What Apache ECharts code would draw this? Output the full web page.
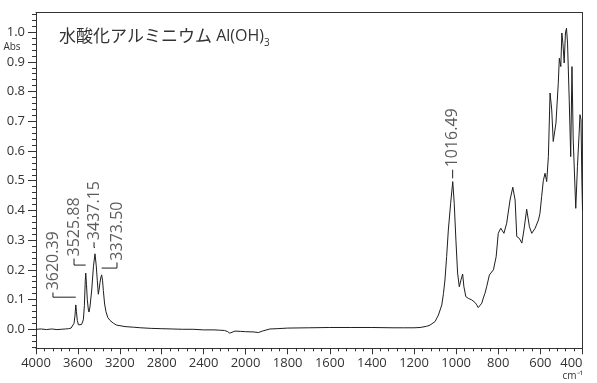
<!DOCTYPE html>
<html><head><meta charset="utf-8">
<script src="https://cdn.jsdelivr.net/npm/echarts@6/dist/echarts.min.js"></script>
<style>html,body{margin:0;padding:0;background:#fff}#c{width:597px;height:383px}</style>
</head><body><div id="c"></div>
<script>
// ---- data: 4000–2000 cm-1 section ----
const wnHigh = [4000,3950,3900,3850,3800,3760,3720,3690,3665,3650,3637,3628,3620,3614,3606,3595,3580,3565,3548,3538,3530,3525,3518,3510,3500,3494,3485,3468,3452,3437,3425,3415,3405,3397,3389,3380,3373,3365,3357,3345,3332,3315,3294,3260,3230,3150,3071,3000,2900,2800,2700,2600,2500,2400,2300,2250,2200,2170,2150,2135,2100,2050,2000];
const absHigh = [0.000,0.001,-0.001,0.001,-0.001,0.000,0.001,0.002,0.004,0.008,0.020,0.045,0.082,0.060,0.030,0.015,0.011,0.016,0.032,0.080,0.160,0.189,0.150,0.099,0.065,0.058,0.075,0.132,0.210,0.254,0.215,0.165,0.118,0.135,0.158,0.176,0.183,0.165,0.130,0.085,0.059,0.040,0.030,0.020,0.014,0.009,0.007,0.005,0.003,0.002,0.001,0.000,0.000,-0.002,-0.002,-0.003,-0.004,-0.008,-0.013,-0.007,-0.006,-0.007,-0.008];
// ---- data: 2000–400 cm-1 section ----
const wnLow = [2000,1960,1939,1920,1884,1850,1800,1700,1600,1500,1400,1300,1250,1200,1171,1140,1124,1100,1084,1068,1060,1053,1045,1037,1026,1016,1009,1001,993,985,977,969,963,954,942,926,910,902,895,886,878,871,863,855,842,823,810,800,788,773,760,744,731,720,712,700,688,678,665,652,641,625,609,602,594,586,578,570,562,554,546,539,526,515,510,503,498,493,487,481,476,471,463,456,450,444,432,424,416,412,407,403,400];
const absLow = [-0.008,-0.009,-0.011,-0.006,0.001,0.002,0.004,0.005,0.006,0.006,0.006,0.005,0.005,0.005,0.006,0.010,0.014,0.026,0.048,0.082,0.121,0.166,0.245,0.334,0.424,0.497,0.424,0.300,0.189,0.143,0.166,0.186,0.143,0.110,0.104,0.099,0.090,0.082,0.073,0.076,0.088,0.105,0.121,0.143,0.183,0.200,0.244,0.323,0.340,0.323,0.357,0.435,0.478,0.435,0.312,0.306,0.290,0.334,0.404,0.345,0.323,0.340,0.368,0.390,0.446,0.500,0.525,0.497,0.581,0.795,0.738,0.632,0.694,0.828,0.912,0.884,0.997,0.963,0.896,0.997,1.013,0.963,0.772,0.581,0.884,0.637,0.407,0.547,0.660,0.722,0.705,0.500,0.400];
// ---- peak annotations ----
const peakWn = [3620.39, 3525.88, 3437.15, 3373.50, 1016.49];
const peakText = ['3620.39', '3525.88', '3437.15', '3373.50', '1016.49'];
const titleCJK = '水酸化アルミニウム';
const titleLatin = ' Al(OH)';
const titleSub = '3';
const yUnit = 'Abs';
const xUnit = 'cm⁻¹';

// leader geometry: label column (wavenumber), label start, leader top, bend level (Abs)
const annot = [
  {tx: 3838, ta: 0.131, lt: 0.124, bend: 0.108},
  {tx: 3637, ta: 0.245, lt: 0.238, bend: 0.216},
  {tx: 3446, ta: 0.300, lt: 0.293, bend: 0.275},
  {tx: 3227, ta: 0.231, lt: 0.225, bend: 0.206},
  {tx: 1016.49, ta: 0.545, lt: 0.537, bend: 0.508}
];

const L = 36, R = 582.5, T = 12.5, B = 348.3, XS = 245.5;
const YMIN = -0.064, YMAX = 1.066;
const H = B - T;
const py = v => T + (YMAX - v) / (YMAX - YMIN) * H;
const AX = '#333', TXT = '#333', LINE = '#1e1e1e';
const NUMFONT = 'Open Sans';

const zip = (a, b) => a.map((v, i) => [v, b[i]]);

const series = [
  {type: 'line', xAxisIndex: 0, yAxisIndex: 0, data: zip(wnHigh, absHigh), symbol: 'none', lineStyle: {width: 1, color: LINE}, animation: false},
  {type: 'line', xAxisIndex: 1, yAxisIndex: 1, data: zip(wnLow, absLow), symbol: 'none', lineStyle: {width: 1, color: LINE}, animation: false}
];
peakWn.forEach((w, i) => {
  const a = annot[i];
  const gi = w >= 2000 ? 0 : 1;
  series.push({
    type: 'line', xAxisIndex: gi, yAxisIndex: gi, symbol: 'none', animation: false, silent: true,
    lineStyle: {width: 1, color: LINE},
    data: [[a.tx, a.lt], [a.tx, a.bend], [w, a.bend]]
  });
  series.push({
    type: 'scatter', xAxisIndex: gi, yAxisIndex: gi, symbolSize: 0, animation: false, silent: true,
    data: [[a.tx, a.ta]],
    label: {show: true, formatter: peakText[i], rotate: 90, position: 'inside', align: 'left', verticalAlign: 'middle',
      fontSize: 16, color: TXT, fontFamily: NUMFONT}
  });
});

const baseX = {
  type: 'value', splitLine: {show: false}, minorSplitLine: {show: false},
  axisLine: {show: true, onZero: false, lineStyle: {color: AX, width: 1}},
  axisTick: {show: true, length: 6, lineStyle: {color: AX}},
  minorTick: {show: true, splitNumber: 5, length: 3, lineStyle: {color: AX}},
  axisLabel: {fontSize: 13, color: TXT, margin: 8, fontFamily: NUMFONT, formatter: v => String(v)}
};
const frameX = (gi, min, max) => ({
  type: 'value', gridIndex: gi, position: 'top', min, max, inverse: true,
  axisLine: {show: true, onZero: false, lineStyle: {color: AX, width: 1}},
  axisTick: {show: false}, axisLabel: {show: false}, splitLine: {show: false}
});

const option = {
  backgroundColor: '#fff',
  animation: false,
  grid: [
    {left: L, top: T, width: XS - L, height: H, outerBoundsMode: 'none'},
    {left: XS, top: T, width: R - XS, height: H, outerBoundsMode: 'none'},
    {left: L, top: py(1.06), width: R - L, height: py(-0.06) - py(1.06), outerBoundsMode: 'none'},
    {left: L, top: py(1.0), width: R - L, height: py(0) - py(1.0), outerBoundsMode: 'none'}
  ],
  xAxis: [
    Object.assign({}, baseX, {gridIndex: 0, position: 'bottom', min: 2000, max: 4000, inverse: true, interval: 400}),
    Object.assign({}, baseX, {gridIndex: 1, position: 'bottom', min: 400, max: 2000, inverse: true, interval: 200,
      axisLabel: Object.assign({}, baseX.axisLabel, {showMaxLabel: false, alignMinLabel: 'right'})}),
    frameX(0, 2000, 4000),
    frameX(1, 400, 2000),
    {type: 'value', gridIndex: 2, show: false, min: 0, max: 1},
    {type: 'value', gridIndex: 3, show: false, min: 0, max: 1}
  ],
  yAxis: [
    {type: 'value', gridIndex: 0, min: YMIN, max: YMAX, axisLine: {show: true, onZero: false, lineStyle: {color: AX, width: 1}},
      axisTick: {show: false}, axisLabel: {show: false}, splitLine: {show: false}},
    {type: 'value', gridIndex: 1, position: 'right', min: YMIN, max: YMAX, axisLine: {show: true, onZero: false, lineStyle: {color: AX, width: 1}},
      axisTick: {show: false}, axisLabel: {show: false}, splitLine: {show: false}},
    {type: 'value', gridIndex: 2, min: -0.06, max: 1.06, interval: 0.02, axisLine: {show: false},
      axisTick: {show: true, length: 4, lineStyle: {color: AX}}, axisLabel: {show: false}, splitLine: {show: false}},
    {type: 'value', gridIndex: 3, min: 0, max: 1, interval: 0.1, axisLine: {show: false},
      axisTick: {show: true, length: 8, lineStyle: {color: AX}}, splitLine: {show: false},
      axisLabel: {fontSize: 13, color: TXT, margin: 11, fontFamily: NUMFONT, formatter: v => v.toFixed(1)}}
  ],
  series,
  graphic: [
    {type: 'text', left: 59, top: 27, silent: true,
      style: {text: '{t|' + titleCJK + '}{l|' + titleLatin + '}{s|' + titleSub + '}', fill: TXT,
        rich: {t: {fontSize: 17, fontFamily: 'Noto Sans CJK JP', fill: TXT, lineHeight: 22, verticalAlign: 'bottom'},
               l: {fontSize: 16, fontFamily: NUMFONT, fill: TXT, lineHeight: 22, verticalAlign: 'bottom'},
               s: {fontSize: 10, fontFamily: NUMFONT, fill: TXT, lineHeight: 22, verticalAlign: 'bottom', padding: [0, 0, -4, 0]}}}},
    {type: 'text', x: 12, y: 47.5, silent: true,
      style: {text: yUnit, fontSize: 10, fontFamily: NUMFONT, fill: TXT, align: 'center', verticalAlign: 'middle'}},
    {type: 'text', x: 583, y: 376, silent: true,
      style: {text: xUnit, fontSize: 10, fontFamily: NUMFONT, fill: TXT, align: 'right', verticalAlign: 'middle'}}
  ]
};
const chart = echarts.init(document.getElementById('c'), null, {renderer: 'canvas'});
chart.setOption(option);
</script>
</body></html>
